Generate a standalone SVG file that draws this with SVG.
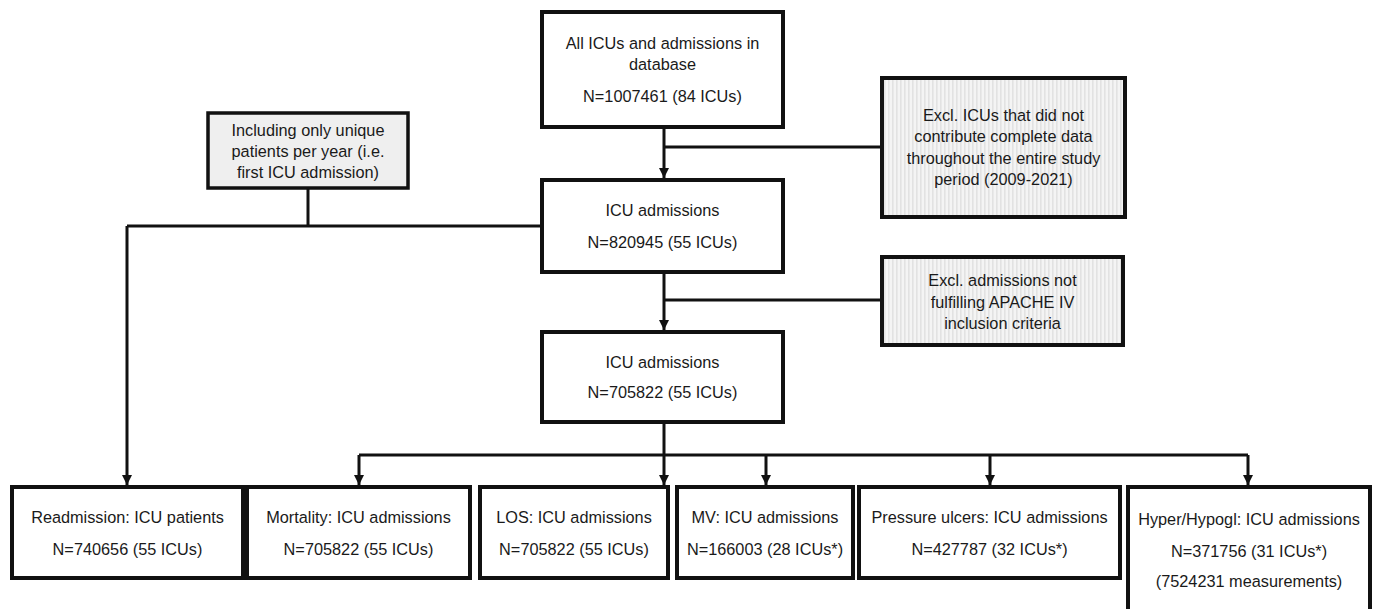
<svg xmlns="http://www.w3.org/2000/svg" width="1375" height="609" viewBox="0 0 1375 609">
<defs>
<style>
.box{fill:#fff;stroke:#111;stroke-width:4}
.shade{fill:url(#stripes);stroke:#111;stroke-width:4}
.inc{fill:#efefef;stroke:#111;stroke-width:3.5}
.t{font-family:"Liberation Sans",Arial,sans-serif;font-size:16.3px;fill:#1a1a1a;text-anchor:middle;dominant-baseline:central}
.c{fill:none;stroke:#111;stroke-width:3}
</style>
<pattern id="stripes" width="4" height="10" patternUnits="userSpaceOnUse">
<rect width="4" height="10" fill="#f4f4f4"/>
<rect width="1.6" height="10" fill="#e2e2e2"/>
</pattern>
<marker id="ah" markerWidth="10" markerHeight="10" refX="10" refY="5" orient="auto" markerUnits="userSpaceOnUse">
<path d="M0,0 L10,5 L0,10 Z" fill="#111"/>
</marker>
</defs>
<rect width="1375" height="609" fill="#fff"/>

<g id="connectors">
<path class="c" d="M664,127 V178" marker-end="url(#ah)"/>
<path class="c" d="M664,147 H882"/>
<path class="c" d="M664,272 V330" marker-end="url(#ah)"/>
<path class="c" d="M664,300 H882"/>
<path class="c" d="M308,188 V226"/>
<path class="c" d="M127,226 H542"/>
<path class="c" d="M127,226 V485" marker-end="url(#ah)"/>
<path class="c" d="M664,422 V485" marker-end="url(#ah)"/>
<path class="c" d="M359,455 H1248"/>
<path class="c" d="M359,455 V485" marker-end="url(#ah)"/>
<path class="c" d="M766,455 V485" marker-end="url(#ah)"/>
<path class="c" d="M990,455 V485" marker-end="url(#ah)"/>
<path class="c" d="M1248,455 V485" marker-end="url(#ah)"/>
</g>

<g id="node-all">
<rect class="box" x="542" y="12" width="241" height="115"/>
<text class="t" x="662.5" y="43">All ICUs and admissions in</text>
<text class="t" x="662.5" y="64">database</text>
<text class="t" x="662.5" y="96">N=1007461 (84 ICUs)</text>
</g>

<g id="node-excl1">
<rect class="shade" x="882" y="78" width="243" height="139"/>
<text class="t" x="1003.5" y="115">Excl. ICUs that did not</text>
<text class="t" x="1003.5" y="136">contribute complete data</text>
<text class="t" x="1003.5" y="157.5">throughout the entire study</text>
<text class="t" x="1003.5" y="179">period (2009-2021)</text>
</g>

<g id="node-including">
<rect class="inc" x="208" y="113" width="200" height="75"/>
<text class="t" x="308" y="130">Including only unique</text>
<text class="t" x="308" y="150.5">patients per year (i.e.</text>
<text class="t" x="308" y="171.5">first ICU admission)</text>
</g>

<g id="node-icu1">
<rect class="box" x="542" y="180" width="241" height="92"/>
<text class="t" x="662.5" y="210">ICU admissions</text>
<text class="t" x="662.5" y="242">N=820945 (55 ICUs)</text>
</g>

<g id="node-excl2">
<rect class="shade" x="882" y="257" width="241" height="88"/>
<text class="t" x="1002.5" y="280">Excl. admissions not</text>
<text class="t" x="1002.5" y="301.5">fulfilling APACHE IV</text>
<text class="t" x="1002.5" y="322.5">inclusion criteria</text>
</g>

<g id="node-icu2">
<rect class="box" x="542" y="332" width="241" height="90"/>
<text class="t" x="662.5" y="362">ICU admissions</text>
<text class="t" x="662.5" y="392">N=705822 (55 ICUs)</text>
</g>

<g id="node-readmission">
<rect class="box" x="12" y="487" width="231" height="91"/>
<text class="t" x="127.5" y="517">Readmission: ICU patients</text>
<text class="t" x="127.5" y="549">N=740656 (55 ICUs)</text>
</g>

<g id="node-mortality">
<rect class="box" x="247" y="487" width="223" height="91"/>
<text class="t" x="358.5" y="517">Mortality: ICU admissions</text>
<text class="t" x="358.5" y="549">N=705822 (55 ICUs)</text>
</g>

<g id="node-los">
<rect class="box" x="480" y="487" width="188" height="91"/>
<text class="t" x="574" y="517">LOS: ICU admissions</text>
<text class="t" x="574" y="549">N=705822 (55 ICUs)</text>
</g>

<g id="node-mv">
<rect class="box" x="677" y="487" width="176" height="91"/>
<text class="t" x="765" y="517">MV: ICU admissions</text>
<text class="t" x="765" y="549">N=166003 (28 ICUs*)</text>
</g>

<g id="node-pressure">
<rect class="box" x="859" y="487" width="261" height="91"/>
<text class="t" x="989.5" y="517">Pressure ulcers: ICU admissions</text>
<text class="t" x="989.5" y="549">N=427787 (32 ICUs*)</text>
</g>

<g id="node-hyper">
<rect class="box" x="1128" y="487" width="242" height="140"/>
<text class="t" x="1249" y="519">Hyper/Hypogl: ICU admissions</text>
<text class="t" x="1249" y="551">N=371756 (31 ICUs*)</text>
<text class="t" x="1249" y="581">(7524231 measurements)</text>
</g>
</svg>
